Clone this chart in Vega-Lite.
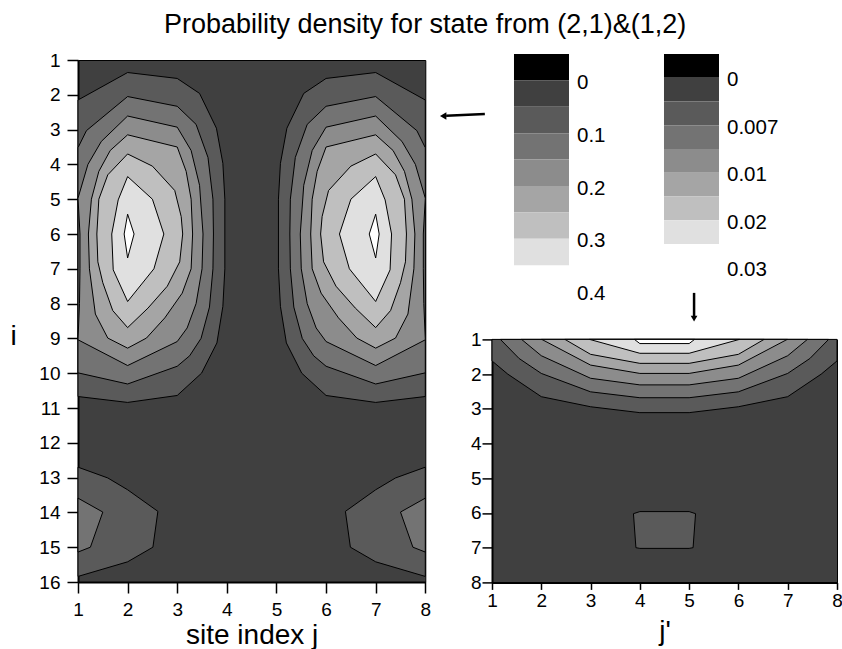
{
  "$schema": "https://vega.github.io/schema/vega-lite/v6.json",
  "padding": {"left": 9, "top": 10, "right": 0, "bottom": 0},
  "config": {
    "font": "Liberation Sans",
    "view": {"stroke": "#000", "strokeWidth": 1},
    "axis": {"labelFontSize": 19, "labelColor": "#000", "titleFontSize": 28, "titleFontWeight": "normal", "titleColor": "#000", "domainColor": "#000", "domainWidth": 2, "tickColor": "#000", "tickWidth": 1.5, "grid": false, "labelFlush": false, "labelOverlap": false},
    "title": {"fontSize": 27, "fontWeight": "normal", "color": "#000"}
  },
  "title": {"text": "Probability density for state from (2,1)&(1,2)", "anchor": "start", "frame": "group", "dx": 86, "offset": 12},
  "datasets": {
    "left": [
      {"p":"a1","l":2,"k":0,"x":1,"y":2.15},{"p":"a1","l":2,"k":1,"x":2,"y":1.36},{"p":"a1","l":2,"k":2,"x":3,"y":1.53},{"p":"a1","l":2,"k":3,"x":3.45,"y":1.96},{"p":"a1","l":2,"k":4,"x":3.79,"y":2.96},{"p":"a1","l":2,"k":5,"x":3.92,"y":3.97},{"p":"a1","l":2,"k":6,"x":3.96,"y":5.0},{"p":"a1","l":2,"k":7,"x":3.96,"y":7.0},{"p":"a1","l":2,"k":8,"x":3.92,"y":8.08},{"p":"a1","l":2,"k":9,"x":3.8,"y":9.13},{"p":"a1","l":2,"k":10,"x":3.49,"y":10.0},{"p":"a1","l":2,"k":11,"x":3.0,"y":10.64},{"p":"a1","l":2,"k":12,"x":2,"y":10.84},{"p":"a1","l":2,"k":13,"x":1,"y":10.67},
      {"p":"c1","l":2,"k":0,"x":8,"y":2.15},{"p":"c1","l":2,"k":1,"x":7,"y":1.36},{"p":"c1","l":2,"k":2,"x":6,"y":1.53},{"p":"c1","l":2,"k":3,"x":5.55,"y":1.96},{"p":"c1","l":2,"k":4,"x":5.21,"y":2.96},{"p":"c1","l":2,"k":5,"x":5.08,"y":3.97},{"p":"c1","l":2,"k":6,"x":5.04,"y":5.0},{"p":"c1","l":2,"k":7,"x":5.04,"y":7.0},{"p":"c1","l":2,"k":8,"x":5.08,"y":8.08},{"p":"c1","l":2,"k":9,"x":5.2,"y":9.13},{"p":"c1","l":2,"k":10,"x":5.51,"y":10.0},{"p":"c1","l":2,"k":11,"x":6.0,"y":10.64},{"p":"c1","l":2,"k":12,"x":7,"y":10.84},{"p":"c1","l":2,"k":13,"x":8,"y":10.67},
      {"p":"b1","l":2,"k":0,"x":1,"y":12.7},{"p":"b1","l":2,"k":1,"x":1.6,"y":13.01},{"p":"b1","l":2,"k":2,"x":2,"y":13.35},{"p":"b1","l":2,"k":3,"x":2.61,"y":13.97},{"p":"b1","l":2,"k":4,"x":2.51,"y":15.0},{"p":"b1","l":2,"k":5,"x":2,"y":15.42},{"p":"b1","l":2,"k":6,"x":1,"y":15.84},
      {"p":"d1","l":2,"k":0,"x":8,"y":12.7},{"p":"d1","l":2,"k":1,"x":7.4,"y":13.01},{"p":"d1","l":2,"k":2,"x":7,"y":13.35},{"p":"d1","l":2,"k":3,"x":6.39,"y":13.97},{"p":"d1","l":2,"k":4,"x":6.49,"y":15.0},{"p":"d1","l":2,"k":5,"x":7,"y":15.42},{"p":"d1","l":2,"k":6,"x":8,"y":15.84},
      {"p":"a2","l":3,"k":0,"x":1,"y":3.52},{"p":"a2","l":3,"k":1,"x":1.17,"y":3.03},{"p":"a2","l":3,"k":2,"x":2,"y":2.05},{"p":"a2","l":3,"k":3,"x":3,"y":2.33},{"p":"a2","l":3,"k":4,"x":3.38,"y":2.85},{"p":"a2","l":3,"k":5,"x":3.62,"y":3.8},{"p":"a2","l":3,"k":6,"x":3.72,"y":5.0},{"p":"a2","l":3,"k":7,"x":3.73,"y":6.0},{"p":"a2","l":3,"k":8,"x":3.72,"y":7.0},{"p":"a2","l":3,"k":9,"x":3.65,"y":8.1},{"p":"a2","l":3,"k":10,"x":3.48,"y":9.0},{"p":"a2","l":3,"k":11,"x":3.25,"y":9.5},{"p":"a2","l":3,"k":12,"x":3.0,"y":9.8},{"p":"a2","l":3,"k":13,"x":2,"y":10.31},{"p":"a2","l":3,"k":14,"x":1,"y":9.99},
      {"p":"c2","l":3,"k":0,"x":8,"y":3.52},{"p":"c2","l":3,"k":1,"x":7.83,"y":3.03},{"p":"c2","l":3,"k":2,"x":7,"y":2.05},{"p":"c2","l":3,"k":3,"x":6,"y":2.33},{"p":"c2","l":3,"k":4,"x":5.62,"y":2.85},{"p":"c2","l":3,"k":5,"x":5.38,"y":3.8},{"p":"c2","l":3,"k":6,"x":5.28,"y":5.0},{"p":"c2","l":3,"k":7,"x":5.27,"y":6.0},{"p":"c2","l":3,"k":8,"x":5.28,"y":7.0},{"p":"c2","l":3,"k":9,"x":5.35,"y":8.1},{"p":"c2","l":3,"k":10,"x":5.52,"y":9.0},{"p":"c2","l":3,"k":11,"x":5.75,"y":9.5},{"p":"c2","l":3,"k":12,"x":6.0,"y":9.8},{"p":"c2","l":3,"k":13,"x":7,"y":10.31},{"p":"c2","l":3,"k":14,"x":8,"y":9.99},
      {"p":"b2","l":3,"k":0,"x":1,"y":13.59},{"p":"b2","l":3,"k":1,"x":1.5,"y":13.99},{"p":"b2","l":3,"k":2,"x":1.25,"y":15.0},{"p":"b2","l":3,"k":3,"x":1,"y":15.14},
      {"p":"d2","l":3,"k":0,"x":8,"y":13.59},{"p":"d2","l":3,"k":1,"x":7.5,"y":13.99},{"p":"d2","l":3,"k":2,"x":7.75,"y":15.0},{"p":"d2","l":3,"k":3,"x":8,"y":15.14},
      {"p":"a3","l":4,"k":0,"x":1,"y":4.97},{"p":"a3","l":4,"k":1,"x":1.2,"y":4.0},{"p":"a3","l":4,"k":2,"x":1.47,"y":3.34},{"p":"a3","l":4,"k":3,"x":2,"y":2.61},{"p":"a3","l":4,"k":4,"x":3,"y":2.93},{"p":"a3","l":4,"k":5,"x":3.28,"y":3.6},{"p":"a3","l":4,"k":6,"x":3.45,"y":4.6},{"p":"a3","l":4,"k":7,"x":3.52,"y":6.0},{"p":"a3","l":4,"k":8,"x":3.5,"y":7.0},{"p":"a3","l":4,"k":9,"x":3.38,"y":8.0},{"p":"a3","l":4,"k":10,"x":3.2,"y":8.7},{"p":"a3","l":4,"k":11,"x":3.0,"y":9.09},{"p":"a3","l":4,"k":12,"x":2,"y":9.78},{"p":"a3","l":4,"k":13,"x":1,"y":9.04},{"p":"a3","l":4,"k":14,"x":1.03,"y":8.0},{"p":"a3","l":4,"k":15,"x":1.04,"y":7.0},{"p":"a3","l":4,"k":16,"x":1.04,"y":6.0},
      {"p":"c3","l":4,"k":0,"x":8,"y":4.97},{"p":"c3","l":4,"k":1,"x":7.8,"y":4.0},{"p":"c3","l":4,"k":2,"x":7.53,"y":3.34},{"p":"c3","l":4,"k":3,"x":7,"y":2.61},{"p":"c3","l":4,"k":4,"x":6,"y":2.93},{"p":"c3","l":4,"k":5,"x":5.72,"y":3.6},{"p":"c3","l":4,"k":6,"x":5.55,"y":4.6},{"p":"c3","l":4,"k":7,"x":5.48,"y":6.0},{"p":"c3","l":4,"k":8,"x":5.5,"y":7.0},{"p":"c3","l":4,"k":9,"x":5.62,"y":8.0},{"p":"c3","l":4,"k":10,"x":5.8,"y":8.7},{"p":"c3","l":4,"k":11,"x":6.0,"y":9.09},{"p":"c3","l":4,"k":12,"x":7,"y":9.78},{"p":"c3","l":4,"k":13,"x":8,"y":9.04},{"p":"c3","l":4,"k":14,"x":7.97,"y":8.0},{"p":"c3","l":4,"k":15,"x":7.96,"y":7.0},{"p":"c3","l":4,"k":16,"x":7.96,"y":6.0},
      {"p":"a4","l":5,"k":0,"x":1.21,"y":6.0},{"p":"a4","l":5,"k":1,"x":1.27,"y":5.0},{"p":"a4","l":5,"k":2,"x":1.42,"y":4.2},{"p":"a4","l":5,"k":3,"x":1.65,"y":3.6},{"p":"a4","l":5,"k":4,"x":2,"y":3.15},{"p":"a4","l":5,"k":5,"x":3,"y":3.5},{"p":"a4","l":5,"k":6,"x":3.18,"y":4.2},{"p":"a4","l":5,"k":7,"x":3.28,"y":5.0},{"p":"a4","l":5,"k":8,"x":3.31,"y":6.0},{"p":"a4","l":5,"k":9,"x":3.28,"y":7.0},{"p":"a4","l":5,"k":10,"x":3.1,"y":7.7},{"p":"a4","l":5,"k":11,"x":2.75,"y":8.41},{"p":"a4","l":5,"k":12,"x":2.38,"y":8.99},{"p":"a4","l":5,"k":13,"x":2,"y":9.28},{"p":"a4","l":5,"k":14,"x":1.6,"y":8.99},{"p":"a4","l":5,"k":15,"x":1.35,"y":8.3},{"p":"a4","l":5,"k":16,"x":1.23,"y":7.0},
      {"p":"c4","l":5,"k":0,"x":7.79,"y":6.0},{"p":"c4","l":5,"k":1,"x":7.73,"y":5.0},{"p":"c4","l":5,"k":2,"x":7.58,"y":4.2},{"p":"c4","l":5,"k":3,"x":7.35,"y":3.6},{"p":"c4","l":5,"k":4,"x":7,"y":3.15},{"p":"c4","l":5,"k":5,"x":6,"y":3.5},{"p":"c4","l":5,"k":6,"x":5.82,"y":4.2},{"p":"c4","l":5,"k":7,"x":5.72,"y":5.0},{"p":"c4","l":5,"k":8,"x":5.69,"y":6.0},{"p":"c4","l":5,"k":9,"x":5.72,"y":7.0},{"p":"c4","l":5,"k":10,"x":5.9,"y":7.7},{"p":"c4","l":5,"k":11,"x":6.25,"y":8.41},{"p":"c4","l":5,"k":12,"x":6.62,"y":8.99},{"p":"c4","l":5,"k":13,"x":7,"y":9.28},{"p":"c4","l":5,"k":14,"x":7.4,"y":8.99},{"p":"c4","l":5,"k":15,"x":7.65,"y":8.3},{"p":"c4","l":5,"k":16,"x":7.77,"y":7.0},
      {"p":"a5","l":6,"k":0,"x":1.38,"y":6.0},{"p":"a5","l":6,"k":1,"x":1.42,"y":5.0},{"p":"a5","l":6,"k":2,"x":1.6,"y":4.3},{"p":"a5","l":6,"k":3,"x":2,"y":3.7},{"p":"a5","l":6,"k":4,"x":2.5,"y":4.05},{"p":"a5","l":6,"k":5,"x":2.95,"y":4.75},{"p":"a5","l":6,"k":6,"x":3.08,"y":5.5},{"p":"a5","l":6,"k":7,"x":3.11,"y":6.0},{"p":"a5","l":6,"k":8,"x":3.05,"y":6.8},{"p":"a5","l":6,"k":9,"x":2.8,"y":7.5},{"p":"a5","l":6,"k":10,"x":2.41,"y":8.13},{"p":"a5","l":6,"k":11,"x":2,"y":8.69},{"p":"a5","l":6,"k":12,"x":1.7,"y":8.2},{"p":"a5","l":6,"k":13,"x":1.5,"y":7.4},{"p":"a5","l":6,"k":14,"x":1.4,"y":6.8},
      {"p":"c5","l":6,"k":0,"x":7.62,"y":6.0},{"p":"c5","l":6,"k":1,"x":7.58,"y":5.0},{"p":"c5","l":6,"k":2,"x":7.4,"y":4.3},{"p":"c5","l":6,"k":3,"x":7,"y":3.7},{"p":"c5","l":6,"k":4,"x":6.5,"y":4.05},{"p":"c5","l":6,"k":5,"x":6.05,"y":4.75},{"p":"c5","l":6,"k":6,"x":5.92,"y":5.5},{"p":"c5","l":6,"k":7,"x":5.89,"y":6.0},{"p":"c5","l":6,"k":8,"x":5.95,"y":6.8},{"p":"c5","l":6,"k":9,"x":6.2,"y":7.5},{"p":"c5","l":6,"k":10,"x":6.59,"y":8.13},{"p":"c5","l":6,"k":11,"x":7,"y":8.69},{"p":"c5","l":6,"k":12,"x":7.3,"y":8.2},{"p":"c5","l":6,"k":13,"x":7.5,"y":7.4},{"p":"c5","l":6,"k":14,"x":7.6,"y":6.8},
      {"p":"a6","l":7,"k":0,"x":1.68,"y":6.0},{"p":"a6","l":7,"k":1,"x":1.81,"y":5.02},{"p":"a6","l":7,"k":2,"x":2,"y":4.35},{"p":"a6","l":7,"k":3,"x":2.5,"y":5.0},{"p":"a6","l":7,"k":4,"x":2.73,"y":6.0},{"p":"a6","l":7,"k":5,"x":2.53,"y":7.0},{"p":"a6","l":7,"k":6,"x":2,"y":7.94},{"p":"a6","l":7,"k":7,"x":1.71,"y":7.03},
      {"p":"c6","l":7,"k":0,"x":7.32,"y":6.0},{"p":"c6","l":7,"k":1,"x":7.19,"y":5.02},{"p":"c6","l":7,"k":2,"x":7,"y":4.35},{"p":"c6","l":7,"k":3,"x":6.5,"y":5.0},{"p":"c6","l":7,"k":4,"x":6.27,"y":6.0},{"p":"c6","l":7,"k":5,"x":6.47,"y":7.0},{"p":"c6","l":7,"k":6,"x":7,"y":7.94},{"p":"c6","l":7,"k":7,"x":7.29,"y":7.03},
      {"p":"a7","l":8,"k":0,"x":1.93,"y":6.0},{"p":"a7","l":8,"k":1,"x":2,"y":5.43},{"p":"a7","l":8,"k":2,"x":2.13,"y":6.0},{"p":"a7","l":8,"k":3,"x":2,"y":6.69},
      {"p":"c7","l":8,"k":0,"x":7.07,"y":6.0},{"p":"c7","l":8,"k":1,"x":7,"y":5.43},{"p":"c7","l":8,"k":2,"x":6.87,"y":6.0},{"p":"c7","l":8,"k":3,"x":7,"y":6.69}
    ],
    "right": [
      {"p":"r1","l":2,"k":0,"x":1,"y":1},{"p":"r1","l":2,"k":1,"x":1,"y":1.62},{"p":"r1","l":2,"k":2,"x":1.32,"y":2.0},{"p":"r1","l":2,"k":3,"x":2,"y":2.65},{"p":"r1","l":2,"k":4,"x":3,"y":2.94},{"p":"r1","l":2,"k":5,"x":4,"y":3.11},{"p":"r1","l":2,"k":6,"x":5,"y":3.11},{"p":"r1","l":2,"k":7,"x":6,"y":2.94},{"p":"r1","l":2,"k":8,"x":7,"y":2.65},{"p":"r1","l":2,"k":9,"x":7.68,"y":2.0},{"p":"r1","l":2,"k":10,"x":8,"y":1.62},{"p":"r1","l":2,"k":11,"x":8,"y":1},
      {"p":"q1","l":2,"k":0,"x":3.87,"y":6.02},{"p":"q1","l":2,"k":1,"x":4,"y":5.96},{"p":"q1","l":2,"k":2,"x":5,"y":5.96},{"p":"q1","l":2,"k":3,"x":5.13,"y":6.02},{"p":"q1","l":2,"k":4,"x":5.08,"y":7.0},{"p":"q1","l":2,"k":5,"x":5,"y":7.02},{"p":"q1","l":2,"k":6,"x":4,"y":7.02},{"p":"q1","l":2,"k":7,"x":3.92,"y":7.0},
      {"p":"r2","l":3,"k":0,"x":1.17,"y":1},{"p":"r2","l":3,"k":1,"x":1.55,"y":1.55},{"p":"r2","l":3,"k":2,"x":2,"y":1.98},{"p":"r2","l":3,"k":3,"x":3,"y":2.51},{"p":"r2","l":3,"k":4,"x":4,"y":2.68},{"p":"r2","l":3,"k":5,"x":5,"y":2.68},{"p":"r2","l":3,"k":6,"x":6,"y":2.51},{"p":"r2","l":3,"k":7,"x":7,"y":1.98},{"p":"r2","l":3,"k":8,"x":7.45,"y":1.55},{"p":"r2","l":3,"k":9,"x":7.83,"y":1},
      {"p":"r3","l":4,"k":0,"x":1.6,"y":1},{"p":"r3","l":4,"k":1,"x":2,"y":1.47},{"p":"r3","l":4,"k":2,"x":3,"y":2.12},{"p":"r3","l":4,"k":3,"x":4,"y":2.31},{"p":"r3","l":4,"k":4,"x":5,"y":2.31},{"p":"r3","l":4,"k":5,"x":6,"y":2.12},{"p":"r3","l":4,"k":6,"x":7,"y":1.47},{"p":"r3","l":4,"k":7,"x":7.4,"y":1},
      {"p":"r4","l":5,"k":0,"x":2.01,"y":1},{"p":"r4","l":5,"k":1,"x":3,"y":1.74},{"p":"r4","l":5,"k":2,"x":4,"y":1.98},{"p":"r4","l":5,"k":3,"x":5,"y":1.98},{"p":"r4","l":5,"k":4,"x":6,"y":1.74},{"p":"r4","l":5,"k":5,"x":6.99,"y":1},
      {"p":"r5","l":6,"k":0,"x":2.48,"y":1},{"p":"r5","l":6,"k":1,"x":3,"y":1.43},{"p":"r5","l":6,"k":2,"x":4,"y":1.69},{"p":"r5","l":6,"k":3,"x":5,"y":1.69},{"p":"r5","l":6,"k":4,"x":6,"y":1.43},{"p":"r5","l":6,"k":5,"x":6.52,"y":1},
      {"p":"r6","l":7,"k":0,"x":2.98,"y":1},{"p":"r6","l":7,"k":1,"x":4,"y":1.4},{"p":"r6","l":7,"k":2,"x":5,"y":1.4},{"p":"r6","l":7,"k":3,"x":6.02,"y":1},
      {"p":"r7","l":8,"k":0,"x":3.89,"y":1},{"p":"r7","l":8,"k":1,"x":4,"y":1.12},{"p":"r7","l":8,"k":2,"x":5,"y":1.12},{"p":"r7","l":8,"k":3,"x":5.11,"y":1}
    ],
    "bars": [
      {"bar":"A","l":0,"i0":0,"i1":1},{"bar":"A","l":1,"i0":1,"i1":2},{"bar":"A","l":2,"i0":2,"i1":3},{"bar":"A","l":3,"i0":3,"i1":4},{"bar":"A","l":4,"i0":4,"i1":5},{"bar":"A","l":5,"i0":5,"i1":6},{"bar":"A","l":6,"i0":6,"i1":7},{"bar":"A","l":7,"i0":7,"i1":8},
      {"bar":"B","l":0,"i0":0,"i1":1},{"bar":"B","l":1,"i0":1,"i1":2},{"bar":"B","l":2,"i0":2,"i1":3},{"bar":"B","l":3,"i0":3,"i1":4},{"bar":"B","l":4,"i0":4,"i1":5},{"bar":"B","l":5,"i0":5,"i1":6},{"bar":"B","l":6,"i0":6,"i1":7},{"bar":"B","l":7,"i0":7,"i1":8}
    ],
    "barlabels": [
      {"bar":"A","i0":1,"t":"0"},{"bar":"A","i0":3,"t":"0.1"},{"bar":"A","i0":5,"t":"0.2"},{"bar":"A","i0":7,"t":"0.3"},{"bar":"A","i0":9,"t":"0.4"},
      {"bar":"B","i0":1,"t":"0"},{"bar":"B","i0":3,"t":"0.007"},{"bar":"B","i0":5,"t":"0.01"},{"bar":"B","i0":7,"t":"0.02"},{"bar":"B","i0":9,"t":"0.03"}
    ],
    "arrowL": [{"x": 9.2, "y": 2.55, "x2": 8.42, "y2": 2.6}],
    "headL": [{"x": 8.36, "y": 2.61}],
    "arrowR": [{"x": 5.1, "y": -0.34, "x2": 5.1, "y2": 0.33}],
    "headR": [{"x": 5.1, "y": 0.4}]
  },
  "bounds": "flush",
  "spacing": 66,
  "hconcat": [
    {
      "width": 347.3,
      "height": 522,
      "view": {"fill": "#404040", "stroke": "#000", "strokeWidth": 1},
      "encoding": {
        "x": {"field": "x", "type": "quantitative", "scale": {"domain": [1, 8], "nice": false, "zero": false},
          "axis": {"values": [1,1.5,2,2.5,3,3.5,4,4.5,5,5.5,6,6.5,7,7.5,8], "format": "d", "labelExpr": "datum.value % 1 === 0 ? datum.label : ''", "tickSize": {"condition": {"test": "datum.value % 1 === 0", "value": 11}, "value": 6}, "labelPadding": 7, "title": "site index j", "titlePadding": 2}},
        "y": {"field": "y", "type": "quantitative", "scale": {"domain": [1, 16], "nice": false, "zero": false, "reverse": true},
          "axis": {"values": [1,1.5,2,2.5,3,3.5,4,4.5,5,5.5,6,6.5,7,7.5,8,8.5,9,9.5,10,10.5,11,11.5,12,12.5,13,13.5,14,14.5,15,15.5,16], "format": "d", "labelExpr": "datum.value % 1 === 0 ? datum.label : ''", "tickSize": {"condition": {"test": "datum.value % 1 === 0", "value": 11}, "value": 6}, "labelPadding": 7, "title": "i", "titleAngle": 0, "titleX": -65, "titleY": 276, "titleAlign": "center", "titleBaseline": "middle"}}
      },
      "layer": [
        {"data": {"name": "left"}, "transform": [{"filter": "datum.l == 2"}], "mark": {"type": "line", "interpolate": "linear-closed", "stroke": "#000", "strokeWidth": 1}, "encoding": {"detail": {"field": "p"}, "order": {"field": "k", "type": "quantitative"}, "fill": {"field": "l", "type": "ordinal", "scale": {"domain": [0,1,2,3,4,5,6,7,8], "range": ["#000000","#404040","#5a5a5a","#737373","#8c8c8c","#a5a5a5","#bfbfbf","#e0e0e0","#ffffff"]}, "legend": null}}},
        {"data": {"name": "left"}, "transform": [{"filter": "datum.l == 3"}], "mark": {"type": "line", "interpolate": "linear-closed", "stroke": "#000", "strokeWidth": 1}, "encoding": {"detail": {"field": "p"}, "order": {"field": "k", "type": "quantitative"}, "fill": {"field": "l", "type": "ordinal", "legend": null}}},
        {"data": {"name": "left"}, "transform": [{"filter": "datum.l == 4"}], "mark": {"type": "line", "interpolate": "linear-closed", "stroke": "#000", "strokeWidth": 1}, "encoding": {"detail": {"field": "p"}, "order": {"field": "k", "type": "quantitative"}, "fill": {"field": "l", "type": "ordinal", "legend": null}}},
        {"data": {"name": "left"}, "transform": [{"filter": "datum.l == 5"}], "mark": {"type": "line", "interpolate": "linear-closed", "stroke": "#000", "strokeWidth": 1}, "encoding": {"detail": {"field": "p"}, "order": {"field": "k", "type": "quantitative"}, "fill": {"field": "l", "type": "ordinal", "legend": null}}},
        {"data": {"name": "left"}, "transform": [{"filter": "datum.l == 6"}], "mark": {"type": "line", "interpolate": "linear-closed", "stroke": "#000", "strokeWidth": 1}, "encoding": {"detail": {"field": "p"}, "order": {"field": "k", "type": "quantitative"}, "fill": {"field": "l", "type": "ordinal", "legend": null}}},
        {"data": {"name": "left"}, "transform": [{"filter": "datum.l == 7"}], "mark": {"type": "line", "interpolate": "linear-closed", "stroke": "#000", "strokeWidth": 1}, "encoding": {"detail": {"field": "p"}, "order": {"field": "k", "type": "quantitative"}, "fill": {"field": "l", "type": "ordinal", "legend": null}}},
        {"data": {"name": "left"}, "transform": [{"filter": "datum.l == 8"}], "mark": {"type": "line", "interpolate": "linear-closed", "stroke": "#000", "strokeWidth": 1}, "encoding": {"detail": {"field": "p"}, "order": {"field": "k", "type": "quantitative"}, "fill": {"field": "l", "type": "ordinal", "legend": null}}},
        {"data": {"name": "arrowL"}, "mark": {"type": "rule", "color": "#000", "strokeWidth": 2.5, "clip": false}, "encoding": {"x2": {"field": "x2"}, "y2": {"field": "y2"}}},
        {"data": {"name": "headL"}, "mark": {"type": "point", "shape": "triangle-left", "filled": true, "color": "#000", "size": 55, "opacity": 1, "clip": false}, "encoding": {}}
      ]
    },
    {
      "bounds": "flush",
      "spacing": 47.4,
      "vconcat": [
        {
          "width": 227,
          "height": 231.6,
          "view": {"stroke": null},
          "resolve": {"scale": {"y": "independent"}},
          "layer": [
            {
              "encoding": {
                "x": {"field": "bar", "type": "nominal", "scale": {"domain": ["A", "B"], "paddingInner": 0.6333, "paddingOuter": 0.0733, "align": 1}, "axis": null},
                "y": {"field": "i0", "type": "quantitative", "scale": {"domain": [0.227, 9], "nice": false, "zero": false, "reverse": true}, "axis": null}
              },
              "layer": [
                {"data": {"name": "bars"}, "transform": [{"filter": "datum.bar == 'A'"}], "mark": {"type": "rect", "clip": false}, "encoding": {"y2": {"field": "i1"}, "fill": {"field": "l", "type": "ordinal", "legend": null}}},
                {"data": {"name": "barlabels"}, "transform": [{"filter": "datum.bar == 'A'"}], "mark": {"type": "text", "align": "left", "baseline": "middle", "dx": 8, "dy": 2.5, "fontSize": 20.5, "color": "#000", "clip": false}, "encoding": {"x": {"field": "bar", "type": "nominal", "bandPosition": 1}, "text": {"field": "t"}}}
              ]
            },
            {
              "encoding": {
                "x": {"field": "bar", "type": "nominal", "scale": {"domain": ["A", "B"], "paddingInner": 0.6333, "paddingOuter": 0.0733, "align": 1}, "axis": null},
                "y": {"field": "i0", "type": "quantitative", "scale": {"domain": [0.248, 10], "nice": false, "zero": false, "reverse": true}, "axis": null}
              },
              "layer": [
                {"data": {"name": "bars"}, "transform": [{"filter": "datum.bar == 'B'"}], "mark": {"type": "rect", "clip": false}, "encoding": {"y2": {"field": "i1"}, "fill": {"field": "l", "type": "ordinal", "legend": null}}},
                {"data": {"name": "barlabels"}, "transform": [{"filter": "datum.bar == 'B'"}], "mark": {"type": "text", "align": "left", "baseline": "middle", "dx": 8, "dy": 2.5, "fontSize": 20.5, "color": "#000", "clip": false}, "encoding": {"x": {"field": "bar", "type": "nominal", "bandPosition": 1}, "text": {"field": "t"}}}
              ]
            }
          ]
        },
        {
          "width": 345,
          "height": 243,
          "view": {"fill": "#404040", "stroke": "#000", "strokeWidth": 1},
          "encoding": {
            "x": {"field": "x", "type": "quantitative", "scale": {"domain": [1, 8], "nice": false, "zero": false},
              "axis": {"values": [1,1.5,2,2.5,3,3.5,4,4.5,5,5.5,6,6.5,7,7.5,8], "format": "d", "labelExpr": "datum.value % 1 === 0 ? datum.label : ''", "tickSize": {"condition": {"test": "datum.value % 1 === 0", "value": 7}, "value": 4}, "labelPadding": 2, "title": "j'", "titlePadding": 7}},
            "y": {"field": "y", "type": "quantitative", "scale": {"domain": [1, 8], "nice": false, "zero": false, "reverse": true},
              "axis": {"values": [1,1.5,2,2.5,3,3.5,4,4.5,5,5.5,6,6.5,7,7.5,8], "format": "d", "labelExpr": "datum.value % 1 === 0 ? datum.label : ''", "tickSize": {"condition": {"test": "datum.value % 1 === 0", "value": 10}, "value": 5}, "labelPadding": 1, "title": null}}
          },
          "layer": [
            {"data": {"name": "right"}, "transform": [{"filter": "datum.l == 2"}], "mark": {"type": "line", "interpolate": "linear-closed", "stroke": "#000", "strokeWidth": 1}, "encoding": {"detail": {"field": "p"}, "order": {"field": "k", "type": "quantitative"}, "fill": {"field": "l", "type": "ordinal", "legend": null}}},
            {"data": {"name": "right"}, "transform": [{"filter": "datum.l == 3"}], "mark": {"type": "line", "interpolate": "linear-closed", "stroke": "#000", "strokeWidth": 1}, "encoding": {"detail": {"field": "p"}, "order": {"field": "k", "type": "quantitative"}, "fill": {"field": "l", "type": "ordinal", "legend": null}}},
            {"data": {"name": "right"}, "transform": [{"filter": "datum.l == 4"}], "mark": {"type": "line", "interpolate": "linear-closed", "stroke": "#000", "strokeWidth": 1}, "encoding": {"detail": {"field": "p"}, "order": {"field": "k", "type": "quantitative"}, "fill": {"field": "l", "type": "ordinal", "legend": null}}},
            {"data": {"name": "right"}, "transform": [{"filter": "datum.l == 5"}], "mark": {"type": "line", "interpolate": "linear-closed", "stroke": "#000", "strokeWidth": 1}, "encoding": {"detail": {"field": "p"}, "order": {"field": "k", "type": "quantitative"}, "fill": {"field": "l", "type": "ordinal", "legend": null}}},
            {"data": {"name": "right"}, "transform": [{"filter": "datum.l == 6"}], "mark": {"type": "line", "interpolate": "linear-closed", "stroke": "#000", "strokeWidth": 1}, "encoding": {"detail": {"field": "p"}, "order": {"field": "k", "type": "quantitative"}, "fill": {"field": "l", "type": "ordinal", "legend": null}}},
            {"data": {"name": "right"}, "transform": [{"filter": "datum.l == 7"}], "mark": {"type": "line", "interpolate": "linear-closed", "stroke": "#000", "strokeWidth": 1}, "encoding": {"detail": {"field": "p"}, "order": {"field": "k", "type": "quantitative"}, "fill": {"field": "l", "type": "ordinal", "legend": null}}},
            {"data": {"name": "right"}, "transform": [{"filter": "datum.l == 8"}], "mark": {"type": "line", "interpolate": "linear-closed", "stroke": "#000", "strokeWidth": 1}, "encoding": {"detail": {"field": "p"}, "order": {"field": "k", "type": "quantitative"}, "fill": {"field": "l", "type": "ordinal", "legend": null}}},
            {"data": {"name": "arrowR"}, "mark": {"type": "rule", "color": "#000", "strokeWidth": 2.5, "clip": false}, "encoding": {"x2": {"field": "x2"}, "y2": {"field": "y2"}}},
            {"data": {"name": "headR"}, "mark": {"type": "point", "shape": "triangle-down", "filled": true, "color": "#000", "size": 45, "opacity": 1, "clip": false}, "encoding": {}}
          ]
        }
      ]
    }
  ]
}
